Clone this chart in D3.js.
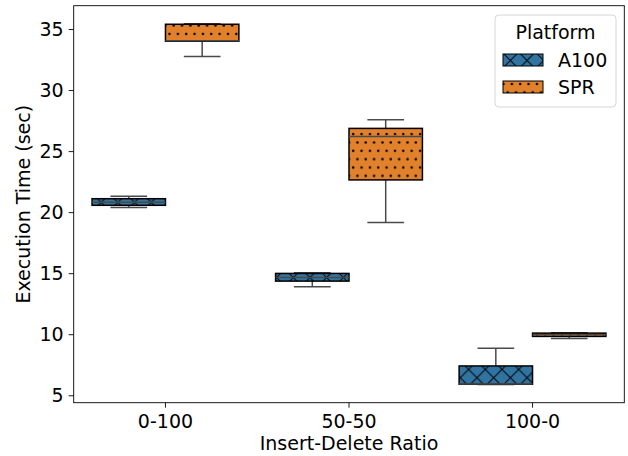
<!DOCTYPE html>
<html>
<head>
<meta charset="utf-8">
<script src="https://cdn.jsdelivr.net/npm/d3@7"></script>
<style>
  body { margin: 0; background: #fff; }
  text { font-family: "DejaVu Sans", sans-serif; fill: #000; }
</style>
</head>
<body>
<div id="chart"></div>
<script>
// box summaries (whisker low, q1, median, q3, whisker high)
const categories = ['0-100', '50-50', '100-0']
const platforms = ['A100', 'SPR']
const a100Low = [20.38, 13.89, 5.88]
const a100Q1 = [20.56, 14.35, 5.90]
const a100Med = [20.80, 14.65, 5.92]
const a100Q3 = [21.10, 14.98, 7.40]
const a100High = [21.30, 15.03, 8.84]
const sprLow = [32.74, 19.15, 9.64]
const sprQ1 = [34.00, 22.64, 9.82]
const sprMed = [34.03, 26.20, 9.96]
const sprQ3 = [35.39, 26.86, 10.09]
const sprHigh = [35.44, 27.57, 10.12]
const yTicks = [5, 10, 15, 20, 25, 30, 35]

const colors = { A100: '#3274a1', SPR: '#e1812c' }

// flatten into rows for d3
let boxes = []
categories.forEach((c, i) => {
  boxes.push({ cat: c, p: 'A100', lo: a100Low[i], q1: a100Q1[i], med: a100Med[i], q3: a100Q3[i], hi: a100High[i] })
  boxes.push({ cat: c, p: 'SPR', lo: sprLow[i], q1: sprQ1[i], med: sprMed[i], q3: sprQ3[i], hi: sprHigh[i] })
})

const W = 628, H = 456
const margin = { top: 5.7, right: 3.7, bottom: 53.3, left: 73.7 }
const fs = 19

const svg = d3.select('#chart').append('svg')
  .attr('width', W).attr('height', H)

// hatch patterns
const defs = svg.append('defs')
const px = defs.append('pattern').attr('id', 'hatchX')
  .attr('patternUnits', 'userSpaceOnUse')
  .attr('width', 16.7).attr('height', 16.7)
  .attr('x', 1).attr('y', 2)
px.append('rect').attr('width', 16.7).attr('height', 16.7).attr('fill', colors.A100)
px.append('path').attr('d', 'M0,0L16.7,16.7M16.7,0L0,16.7M-2,14.7L2,18.7M14.7,-2L18.7,2')
  .attr('stroke', '#000').attr('stroke-width', 1).attr('fill', 'none')

const pd = defs.append('pattern').attr('id', 'hatchDot')
  .attr('patternUnits', 'userSpaceOnUse')
  .attr('width', 8.35).attr('height', 16.7)
  .attr('x', 0.5).attr('y', 0.5)
pd.append('rect').attr('width', 8.35).attr('height', 16.7).attr('fill', colors.SPR)
pd.append('circle').attr('cx', 2).attr('cy', 0).attr('r', 1.25).attr('fill', '#000')
pd.append('circle').attr('cx', 2).attr('cy', 16.7).attr('r', 1.25).attr('fill', '#000')
pd.append('circle').attr('cx', 6.2).attr('cy', 8.35).attr('r', 1.25).attr('fill', '#000')

const fills = { A100: 'url(#hatchX)', SPR: 'url(#hatchDot)' }

const x = d3.scaleBand().domain(categories)
  .range([margin.left, W - margin.right]).padding(0)
const y = d3.scaleLinear().domain([4.39, 36.91])
  .range([H - margin.bottom, margin.top])

const bw = x.bandwidth() * 0.4
const bx = d => x(d.cat) + x.bandwidth() / 2 + (d.p === 'A100' ? -bw : 0)

const g = svg.append('g')
const bg = g.selectAll('g.box').data(boxes).join('g').attr('class', 'box')

// whiskers
bg.append('line')
  .attr('x1', d => bx(d) + bw / 2).attr('x2', d => bx(d) + bw / 2)
  .attr('y1', d => y(d.hi)).attr('y2', d => y(d.q3))
  .attr('stroke', '#4a4a4a').attr('stroke-width', 1.5)
bg.append('line')
  .attr('x1', d => bx(d) + bw / 2).attr('x2', d => bx(d) + bw / 2)
  .attr('y1', d => y(d.q1)).attr('y2', d => y(d.lo))
  .attr('stroke', '#4a4a4a').attr('stroke-width', 1.5)
// caps
for (const k of ['hi', 'lo']) {
  bg.append('line')
    .attr('x1', d => bx(d) + bw / 4).attr('x2', d => bx(d) + bw * 3 / 4)
    .attr('y1', d => y(d[k])).attr('y2', d => y(d[k]))
    .attr('stroke', '#4a4a4a').attr('stroke-width', 1.5)
}
// boxes
bg.append('rect')
  .attr('x', d => bx(d)).attr('width', bw)
  .attr('y', d => y(d.q3)).attr('height', d => y(d.q1) - y(d.q3))
  .attr('fill', d => fills[d.p])
  .attr('stroke', '#000').attr('stroke-width', 1.5)
// medians
bg.append('line')
  .attr('x1', d => bx(d)).attr('x2', d => bx(d) + bw)
  .attr('y1', d => y(d.med)).attr('y2', d => y(d.med))
  .attr('stroke', '#4a4a4a').attr('stroke-width', 1.5)

// axes
const yAxis = svg.append('g')
  .attr('transform', `translate(${margin.left},0)`)
  .call(d3.axisLeft(y).tickValues(yTicks).tickSize(5).tickPadding(5))
const xAxis = svg.append('g')
  .attr('transform', `translate(0,${H - margin.bottom})`)
  .call(d3.axisBottom(x).tickSize(5).tickPadding(7))
for (const a of [xAxis, yAxis]) {
  a.select('.domain').remove()
  a.selectAll('.tick line').attr('stroke', '#000').attr('stroke-width', 0.9)
  a.selectAll('.tick text').attr('font-size', fs).attr('font-family', '"DejaVu Sans", sans-serif').attr('fill', '#000')
}

// frame
svg.append('rect')
  .attr('x', margin.left).attr('y', margin.top)
  .attr('width', W - margin.left - margin.right)
  .attr('height', H - margin.top - margin.bottom)
  .attr('fill', 'none').attr('stroke', '#000').attr('stroke-width', 0.9)

// labels
svg.append('text')
  .attr('x', (margin.left + W - margin.right) / 2).attr('y', 450)
  .attr('text-anchor', 'middle').attr('font-size', fs)
  .text('Insert-Delete Ratio')
svg.append('text')
  .attr('transform', `translate(30,${(margin.top + H - margin.bottom) / 2}) rotate(-90)`)
  .attr('text-anchor', 'middle').attr('font-size', fs)
  .text('Execution Time (sec)')

// legend
const lg = svg.append('g')
lg.append('rect')
  .attr('x', 495).attr('y', 15).attr('width', 121).attr('height', 92).attr('rx', 4)
  .attr('fill', '#fff').attr('fill-opacity', 0.8).attr('stroke', '#d6d6d6')
lg.append('text').attr('x', 555.5).attr('y', 39).attr('text-anchor', 'middle')
  .attr('font-size', fs).text('Platform')
platforms.forEach((p, i) => {
  const yy = 54 + i * 27
  lg.append('rect').attr('x', 503).attr('y', yy).attr('width', 40).attr('height', 12)
    .attr('fill', fills[p]).attr('stroke', '#000').attr('stroke-width', 1)
  lg.append('text').attr('x', 558).attr('y', yy + 6).attr('dy', '0.36em')
    .attr('font-size', fs).text(p)
})
</script>
</body>
</html>
